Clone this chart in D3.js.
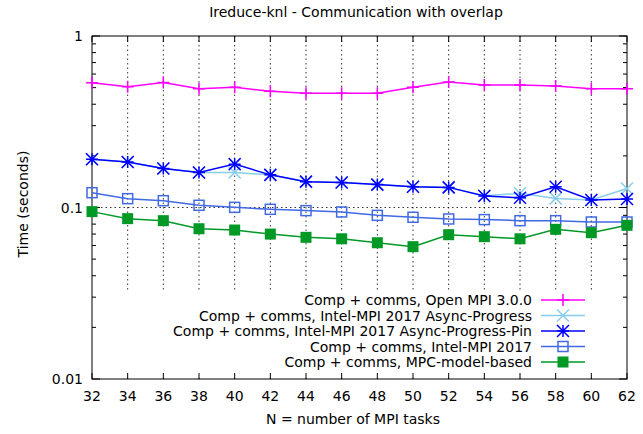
<!DOCTYPE html>
<html>
<head>
<meta charset="utf-8">
<script src="https://cdn.jsdelivr.net/npm/d3@7"></script>
<style>
  body { margin: 0; background: #fff; }
  text { font-family: "DejaVu Sans", sans-serif; fill: #000; }
</style>
</head>
<body>
<svg id="chart" width="643" height="434"></svg>
<script>
const tasks = [32, 34, 36, 38, 40, 42, 44, 46, 48, 50, 52, 54, 56, 58, 60, 62];
const openMpi = [0.534, 0.506, 0.536, 0.493, 0.502, 0.476, 0.463, 0.463, 0.463, 0.502, 0.539, 0.518, 0.518, 0.511, 0.493, 0.493];
const asyncProgress = [0.191, 0.184, 0.169, 0.160, 0.160, 0.155, 0.1415, 0.140, 0.136, 0.132, 0.131, 0.117, 0.121, 0.113, 0.1106, 0.129];
const asyncPin = [0.191, 0.184, 0.169, 0.160, 0.179, 0.155, 0.1415, 0.140, 0.136, 0.132, 0.131, 0.1167, 0.114, 0.132, 0.1106, 0.112];
const intelMpi = [0.122, 0.1126, 0.1096, 0.103, 0.1002, 0.0976, 0.0959, 0.0942, 0.090, 0.0877, 0.0857, 0.085, 0.0838, 0.0838, 0.0823, 0.0823];
const mpcModel = [0.0946, 0.0861, 0.0838, 0.0752, 0.0739, 0.070, 0.067, 0.0657, 0.0623, 0.0591, 0.0694, 0.0676, 0.0657, 0.0746, 0.0713, 0.0787];
const xTicks = tasks;
const yTicks = [0.01, 0.1, 1];

const series = [
  {name: "Comp + comms, Open MPI 3.0.0", values: openMpi, color: "#ff00ff", marker: "plus"},
  {name: "Comp + comms, Intel-MPI 2017 Async-Progress", values: asyncProgress, color: "#87ceeb", marker: "cross"},
  {name: "Comp + comms, Intel-MPI 2017 Async-Progress-Pin", values: asyncPin, color: "#0000ff", marker: "star"},
  {name: "Comp + comms, Intel-MPI 2017", values: intelMpi, color: "#4169e1", marker: "square"},
  {name: "Comp + comms, MPC-model-based", values: mpcModel, color: "#009926", marker: "filled"}
];

const svg = d3.select("#chart");
const plotLeft = 92, plotRight = 627, plotTop = 36, plotBottom = 379;
const fontSize = "14px";

const x = d3.scaleLinear().domain([32, 62]).range([plotLeft, plotRight]);
const y = d3.scaleLog().domain([0.01, 1]).range([plotBottom, plotTop]);

// title and axis labels
svg.append("text").attr("x", 356).attr("y", 17).attr("text-anchor", "middle")
  .style("font-size", fontSize).text("Ireduce-knl - Communication with overlap");
svg.append("text").attr("x", 353).attr("y", 424).attr("text-anchor", "middle")
  .style("font-size", fontSize).text("N = number of MPI tasks");
svg.append("text").attr("transform", "translate(28,204) rotate(-90)").attr("text-anchor", "middle")
  .style("font-size", fontSize).text("Time (seconds)");

// grid
const grid = svg.append("g").attr("stroke", "#000").attr("stroke-width", 0.8).attr("stroke-dasharray", "1.5,3");
grid.selectAll("line.v").data(xTicks.slice(1, -1)).join("line")
  .attr("x1", d => x(d)).attr("x2", d => x(d)).attr("y1", plotTop).attr("y2", plotBottom);
grid.append("line").attr("x1", plotLeft).attr("x2", plotRight).attr("y1", y(0.1)).attr("y2", y(0.1));

// legend background covers grid
const legendTop = 292;
svg.append("rect").attr("x", plotLeft + 1).attr("y", legendTop).attr("width", plotRight - plotLeft - 2)
  .attr("height", plotBottom - legendTop - 1).attr("fill", "#fff");

// axes frame and ticks
const axes = svg.append("g").attr("stroke", "#000").attr("stroke-width", 1);
axes.append("rect").attr("x", plotLeft).attr("y", plotTop).attr("width", plotRight - plotLeft)
  .attr("height", plotBottom - plotTop).attr("fill", "none");
xTicks.forEach(t => {
  axes.append("line").attr("x1", x(t)).attr("x2", x(t)).attr("y1", plotBottom).attr("y2", plotBottom - 6);
  axes.append("line").attr("x1", x(t)).attr("x2", x(t)).attr("y1", plotTop).attr("y2", plotTop + 6);
});
const minor = [];
[0.01, 0.1].forEach(b => { for (let k = 2; k <= 9; k++) minor.push(b * k); });
minor.forEach(v => {
  axes.append("line").attr("x1", plotLeft).attr("x2", plotLeft + 4).attr("y1", y(v)).attr("y2", y(v));
  axes.append("line").attr("x1", plotRight).attr("x2", plotRight - 4).attr("y1", y(v)).attr("y2", y(v));
});
yTicks.forEach(v => {
  axes.append("line").attr("x1", plotLeft).attr("x2", plotLeft + 8).attr("y1", y(v)).attr("y2", y(v));
  axes.append("line").attr("x1", plotRight).attr("x2", plotRight - 8).attr("y1", y(v)).attr("y2", y(v));
});

svg.append("g").selectAll("text").data(xTicks).join("text")
  .attr("x", d => x(d)).attr("y", plotBottom + 22).attr("text-anchor", "middle")
  .style("font-size", fontSize).text(d => d);
svg.append("g").selectAll("text").data(yTicks).join("text")
  .attr("x", plotLeft - 9).attr("y", d => y(d) + 5).attr("text-anchor", "end")
  .style("font-size", fontSize).text(d => d);

function drawMarker(g, type, cx, cy, color) {
  const s = 6;
  if (type === "plus") {
    g.append("path").attr("d", `M${cx - s},${cy}H${cx + s}M${cx},${cy - s}V${cy + s}`)
      .attr("stroke", color).attr("stroke-width", 1.5);
  } else if (type === "cross") {
    g.append("path").attr("d", `M${cx - s},${cy - s}L${cx + s},${cy + s}M${cx - s},${cy + s}L${cx + s},${cy - s}`)
      .attr("stroke", color).attr("stroke-width", 1.5);
  } else if (type === "star") {
    g.append("path").attr("d", `M${cx - s},${cy - s}L${cx + s},${cy + s}M${cx - s},${cy + s}L${cx + s},${cy - s}M${cx - s},${cy}H${cx + s}M${cx},${cy - s}V${cy + s}`)
      .attr("stroke", color).attr("stroke-width", 1.5);
  } else if (type === "square") {
    g.append("rect").attr("x", cx - 5).attr("y", cy - 5).attr("width", 10).attr("height", 10)
      .attr("fill", "none").attr("stroke", color).attr("stroke-width", 1.5);
  } else {
    g.append("rect").attr("x", cx - 5.5).attr("y", cy - 5.5).attr("width", 11).attr("height", 11)
      .attr("fill", color);
  }
}

const line = d3.line().x((d, i) => x(tasks[i])).y(d => y(d));
series.forEach(s => {
  const g = svg.append("g");
  g.append("path").datum(s.values).attr("d", line).attr("fill", "none")
    .attr("stroke", s.color).attr("stroke-width", 1.5);
  s.values.forEach((v, i) => drawMarker(g, s.marker, x(tasks[i]), y(v), s.color));
});

// legend
series.forEach((s, i) => {
  const ly = 300 + i * 15.5;
  svg.append("text").attr("x", 532).attr("y", ly + 5).attr("text-anchor", "end")
    .style("font-size", fontSize).text(s.name);
  const g = svg.append("g");
  g.append("line").attr("x1", 541).attr("x2", 585).attr("y1", ly).attr("y2", ly)
    .attr("stroke", s.color).attr("stroke-width", 1.5);
  drawMarker(g, s.marker, 563, ly, s.color);
});
</script>
</body>
</html>
